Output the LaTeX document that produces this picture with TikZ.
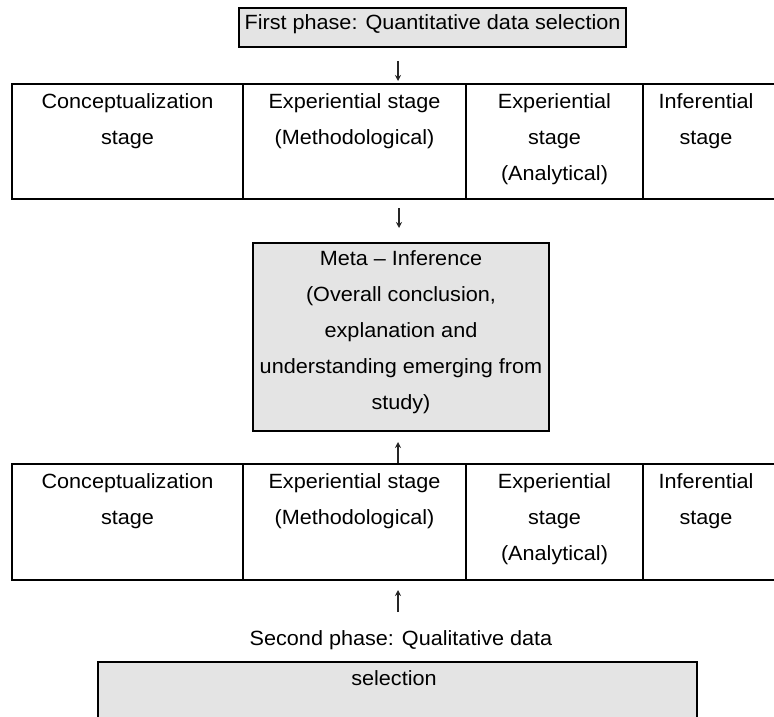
\documentclass[tikz,border=0pt]{standalone}
\usepackage{fontspec}
\setmainfont{Liberation Sans}[FakeStretch=1.05]
\usetikzlibrary{arrows.meta}
\definecolor{boxgrey}{RGB}{228,228,228}
\tikzset{
  rule/.style={line width=1.3pt, black},
  greybox/.style={draw=black, line width=1.3pt, fill=boxgrey, rectangle, inner sep=0pt},
  txt/.style={font=\fontsize{20.6}{36}\selectfont, inner sep=0pt, align=center},
  glyph/.style={line width=1.1pt, black!85, -{Stealth[length=6pt,width=6pt]}}
}
\begin{document}
\begin{tikzpicture}[x=1pt,y=-1pt]
\useasboundingbox (0,0) rectangle (774,717);

% first phase box
\node[greybox, minimum width=387pt, minimum height=39pt] (p1box) at (432.5,27.5) {};
\node[txt, anchor=base] (p1) at (432.5,30) {First phase: Quantitative data selection};

% table 1
\draw[rule] (774,84) -- (12,84) -- (12,199) -- (774,199);
\draw[rule] (243,84) -- (243,199) (466,84) -- (466,199) (643,84) -- (643,199);
\node[txt, anchor=north] (t1a) at (127.5,83.5) {\strut Conceptualization\\stage};
\node[txt, anchor=north] (t1b) at (354.5,83.5) {\strut Experiential stage\\(Methodological)};
\node[txt, anchor=north] (t1c) at (554.5,83.5) {\strut Experiential\\stage\\(Analytical)};
\node[txt, anchor=north] (t1d) at (706,83.5) {\strut Inferential\\stage};

% meta inference box
\node[greybox, minimum width=296pt, minimum height=188pt] (meta) at (401,337) {};
\node[txt, anchor=north] (metatxt) at (401,240.5) {\strut Meta -- Inference\\(Overall conclusion,\\explanation and\\understanding emerging from\\study)};

% table 2
\draw[rule] (774,464) -- (12,464) -- (12,580) -- (774,580);
\draw[rule] (243,464) -- (243,580) (466,464) -- (466,580) (643,464) -- (643,580);
\node[txt, anchor=north] (t2a) at (127.5,463.5) {\strut Conceptualization\\stage};
\node[txt, anchor=north] (t2b) at (354.5,463.5) {\strut Experiential stage\\(Methodological)};
\node[txt, anchor=north] (t2c) at (554.5,463.5) {\strut Experiential\\stage\\(Analytical)};
\node[txt, anchor=north] (t2d) at (706,463.5) {\strut Inferential\\stage};

% second phase
\node[txt, anchor=base] (p2a) at (401,645) {Second phase: Qualitative data};
\fill[boxgrey] (98,662) rectangle (697,717);
\draw[rule] (98,717) -- (98,662) -- (697,662) -- (697,717);
\node[txt, anchor=base] (p2b) at (394,685) {selection};

% arrows
\coordinate (a1s) at (398,61);
\coordinate (a1e) at (398,81);
\coordinate (a2s) at (399,208);
\coordinate (a2e) at (399,228);
\coordinate (a3s) at (398,463);
\coordinate (a3e) at (398,442);
\coordinate (a4s) at (398,612);
\coordinate (a4e) at (398,590);
\draw[glyph] (a1s) -- (a1e);
\draw[glyph] (a2s) -- (a2e);
\draw[glyph] (a3s) -- (a3e);
\draw[glyph] (a4s) -- (a4e);
\end{tikzpicture}
\end{document}
